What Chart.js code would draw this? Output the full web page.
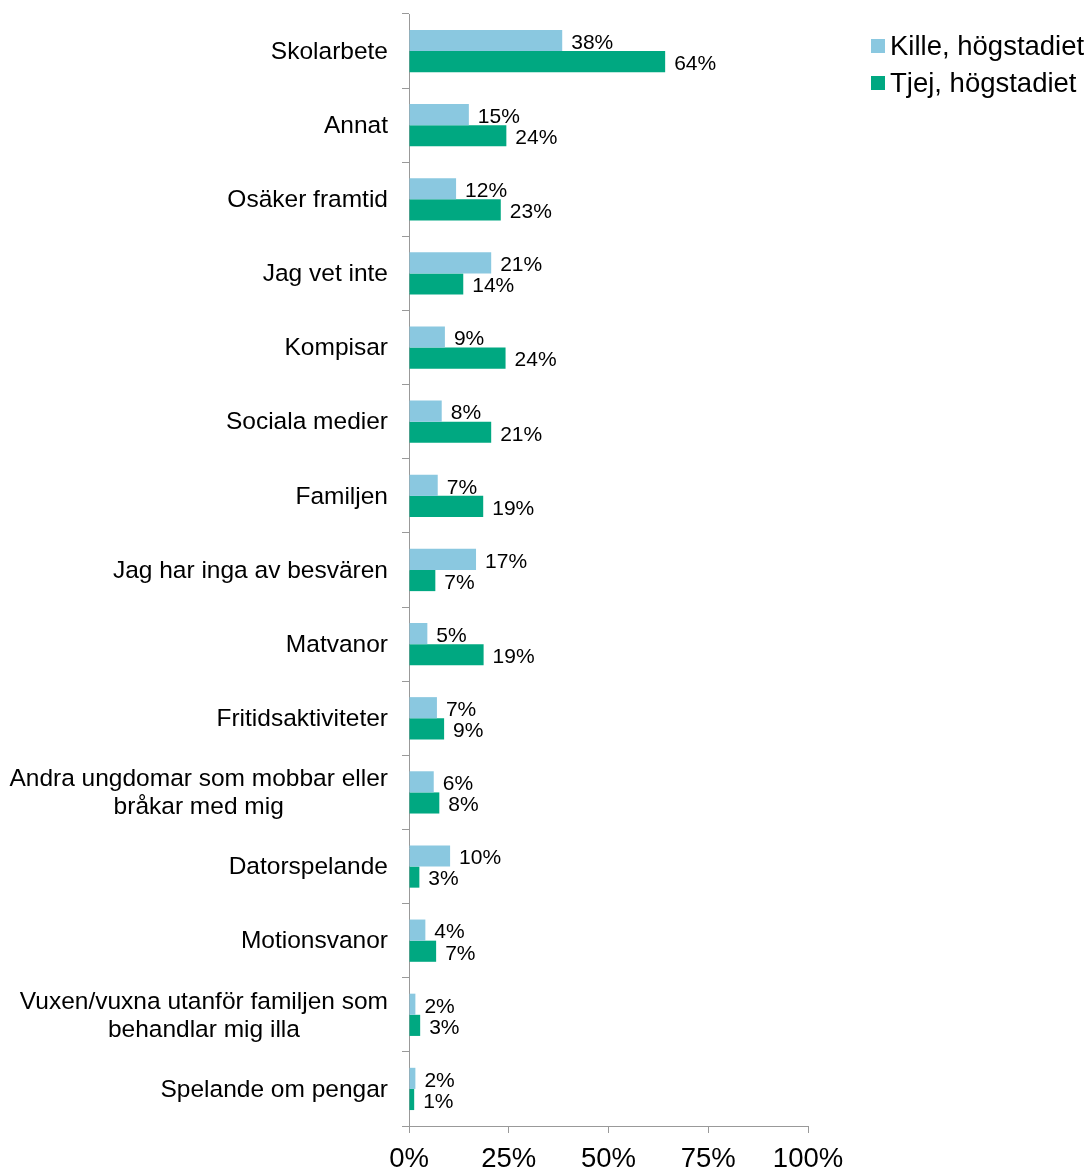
<!DOCTYPE html>
<html lang="sv">
<head>
    <meta charset="UTF-8">
    <title>Besvär högstadiet</title>
    <script src="https://cdn.jsdelivr.net/npm/chart.js"></script>
    <style>
        body {
            margin: 0;
            padding: 0;
            background: #fff;
            font-family: "Liberation Sans", Arial, sans-serif;
        }
        .wrap {
            position: relative;
            width: 1089px;
            height: 1171px;
        }
        .legend {
            position: absolute;
            left: 871px;
            top: 27px;
            font-size: 27.5px;
            color: #000;
            white-space: nowrap;
        }
        .legend div {
            display: flex;
            align-items: center;
            height: 37px;
        }
        .legend span.box {
            display: inline-block;
            width: 14px;
            height: 14px;
            margin-right: 5px;
        }
    </style>
</head>
<body>
<div class="wrap">
    <canvas id="chart" width="1089" height="1171"></canvas>
    <div class="legend" id="legend"></div>
</div>
<script>
    const categories = [
        'Skolarbete',
        'Annat',
        'Osäker framtid',
        'Jag vet inte',
        'Kompisar',
        'Sociala medier',
        'Familjen',
        'Jag har inga av besvären',
        'Matvanor',
        'Fritidsaktiviteter',
        ['Andra ungdomar som mobbar eller', 'bråkar med mig'],
        'Datorspelande',
        'Motionsvanor',
        ['Vuxen/vuxna utanför familjen som', 'behandlar mig illa'],
        'Spelande om pengar'
    ];
    const seriesNames = ['Kille, högstadiet', 'Tjej, högstadiet'];
    const killeValues = [38.4, 15.0, 11.8, 20.6, 9.0, 8.2, 7.2, 16.8, 4.6, 7.0, 6.2, 10.3, 4.1, 1.6, 1.6];
    const tjejValues = [64.2, 24.4, 23.0, 13.6, 24.2, 20.6, 18.6, 6.6, 18.7, 8.8, 7.6, 2.6, 6.8, 2.8, 1.3];
    const colors = ['#8ac8e0', '#00a881'];
    const xTicks = [0, 25, 50, 75, 100];

    // legend as html
    const legendEl = document.getElementById('legend');
    seriesNames.forEach((name, i) => {
        const row = document.createElement('div');
        row.innerHTML = '<span class="box" style="background:' + colors[i] + '"></span>' + name;
        legendEl.appendChild(row);
    });

    const FONT = '"Liberation Sans", Arial, sans-serif';

    // procentetiketter vid stapelns slut
    const barLabels = {
        id: 'barLabels',
        afterDatasetsDraw(chart) {
            const ctx = chart.ctx;
            ctx.save();
            ctx.font = '21px ' + FONT;
            ctx.fillStyle = '#000';
            ctx.textAlign = 'left';
            ctx.textBaseline = 'middle';
            chart.data.datasets.forEach((ds, di) => {
                chart.getDatasetMeta(di).data.forEach((bar, i) => {
                    ctx.fillText(Math.round(ds.data[i]) + '%', bar.x + 9, bar.y + 2.5);
                });
            });
            ctx.restore();
        }
    };

    // kategorietiketter: blocket högerjusterat, raderna centrerade
    const catLabels = {
        id: 'catLabels',
        afterDraw(chart) {
            const ctx = chart.ctx;
            const y = chart.scales.y;
            const right = y.right - 21;
            const lh = 28;
            ctx.save();
            ctx.font = '24.5px ' + FONT;
            ctx.fillStyle = '#000';
            ctx.textAlign = 'center';
            ctx.textBaseline = 'middle';
            categories.forEach((label, i) => {
                const lines = Array.isArray(label) ? label : [label];
                const w = Math.max(...lines.map(l => ctx.measureText(l).width));
                const cx = right - w / 2;
                const cy = y.getPixelForTick(i) + 1;
                lines.forEach((l, k) => {
                    ctx.fillText(l, cx, cy + (k - (lines.length - 1) / 2) * lh);
                });
            });
            ctx.restore();
        }
    };

    new Chart(document.getElementById('chart'), {
        type: 'bar',
        data: {
            labels: categories,
            datasets: [
                {
                    label: seriesNames[0],
                    data: killeValues,
                    backgroundColor: colors[0],
                    categoryPercentage: 0.57,
                    barPercentage: 1.0
                },
                {
                    label: seriesNames[1],
                    data: tjejValues,
                    backgroundColor: colors[1],
                    categoryPercentage: 0.57,
                    barPercentage: 1.0
                }
            ]
        },
        options: {
            indexAxis: 'y',
            responsive: false,
            animation: false,
            layout: {
                padding: { top: 14, right: 281, left: 0, bottom: 0 }
            },
            plugins: {
                legend: { display: false },
                tooltip: { enabled: false }
            },
            scales: {
                x: {
                    min: 0,
                    max: 100,
                    afterBuildTicks(scale) {
                        scale.ticks = xTicks.map(v => ({ value: v }));
                    },
                    afterFit(scale) {
                        scale.height = 45;
                    },
                    border: { color: '#999', width: 1 },
                    grid: {
                        drawOnChartArea: false,
                        drawTicks: true,
                        tickLength: 7,
                        color: '#999'
                    },
                    ticks: {
                        font: { size: 27.5, family: FONT },
                        color: '#000',
                        padding: 10,
                        maxRotation: 0,
                        callback: v => v + '%'
                    }
                },
                y: {
                    afterFit(scale) {
                        scale.width = 409;
                    },
                    border: { color: '#999', width: 1 },
                    grid: {
                        drawOnChartArea: false,
                        drawTicks: true,
                        tickLength: 7,
                        color: '#999',
                        offset: true
                    },
                    ticks: { display: false }
                }
            }
        },
        plugins: [barLabels, catLabels]
    });
</script>
</body>
</html>
